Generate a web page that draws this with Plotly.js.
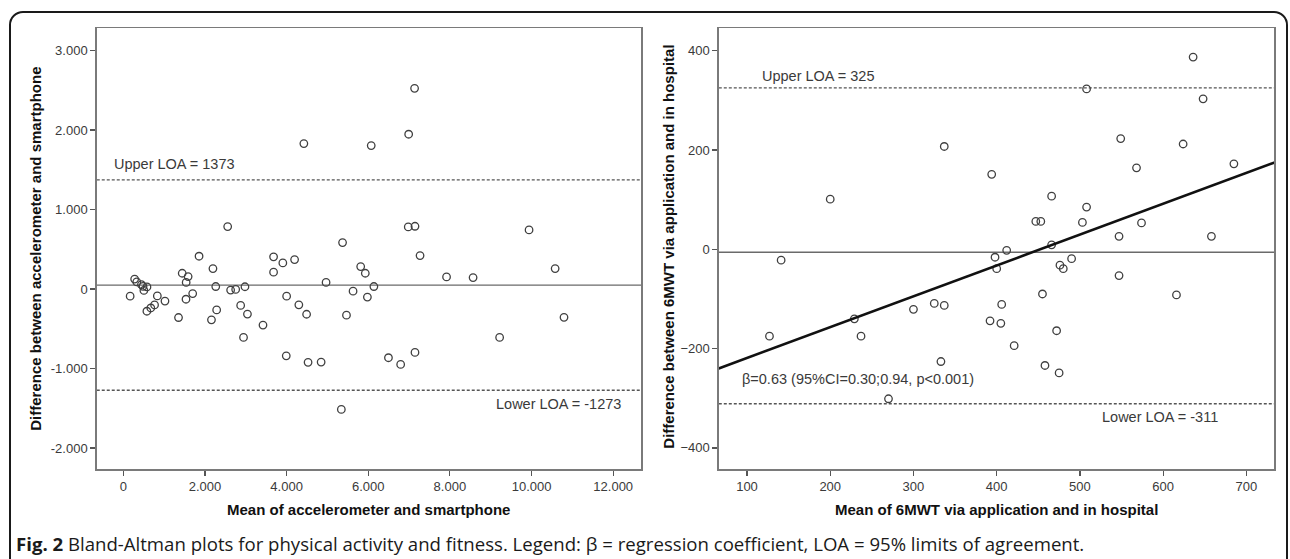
<!DOCTYPE html>
<html>
<head>
<meta charset="utf-8">
<script src="https://cdn.plot.ly/plotly-3.0.1.min.js"></script>
<style>
  html, body { margin:0; padding:0; background:#fff; overflow:hidden; width:1290px; height:559px; }
  #frame { position:absolute; left:9px; top:11px; width:1279px; height:620px; border:2px solid #1a1a1a; border-radius:14px; box-sizing:border-box; }
  #chart { position:absolute; left:0; top:0; width:1290px; height:559px; }
</style>
</head>
<body>
<div id="frame"></div>
<div id="chart"></div>
<script>
// ---- Left panel: physical activity (steps) ----
const leftMean = [7135,6990,4423,6073,2557,6980,7145,9939,5371,1856,3681,3908,4196,7269,2196,3681,5815,5928,10578,1443,1588,7918,8568,278,330,445,484,505,580,168,578,674,766,834,1021,1353,1540,1700,1536,2265,2287,2160,2629,2753,2980,2875,3041,2945,3422,4001,3992,4300,4490,4526,4846,4967,5341,5467,5628,5979,6138,6495,6794,7145,9218,10795];
const leftDiff = [2526,1948,1830,1805,786,782,790,744,585,413,405,329,371,421,258,212,283,199,258,199,157,153,145,126,90,55,35,-17,27,-90,-279,-238,-200,-86,-151,-358,84,-57,-128,32,-262,-387,-13,-4,29,-206,-315,-608,-453,-90,-840,-198,-317,-922,-918,84,-1514,-328,-27,-101,32,-864,-948,-797,-608,-356];
const leftMeanDiff = 50;
const leftUpper = 1373;
const leftLower = -1273;
const leftXTicks = [0,2000,4000,6000,8000,10000,12000];
const leftXTickText = ["0","2.000","4.000","6.000","8.000","10.000","12.000"];
const leftYTicks = [-2000,-1000,0,1000,2000,3000];
const leftYTickText = ["-2.000","-1.000","0","1.000","2.000","3.000"];

// ---- Right panel: 6MWT ----
const rightMean = [636,508,648,549,337,624,685,568,394,200,466,508,447,453,503,574,547,658,466,412,141,398,490,476,480,400,547,455,616,325,337,406,300,229,392,405,472,127,237,421,333,458,475,270];
const rightDiff = [387,323,303,223,207,212,172,164,151,101,107,85,56,56,54,53,26,26,9,-2,-22,-16,-19,-32,-39,-39,-53,-90,-92,-109,-113,-111,-121,-140,-144,-149,-164,-175,-175,-194,-226,-234,-249,-301];
const rightMeanDiff = -6;
const rightUpper = 325;
const rightLower = -311;
const regX = [66, 734];
const regY = [-240, 175];
const rightXTicks = [100,200,300,400,500,600,700];
const rightYTicks = [-400,-200,0,200,400];

const tickFont = {family:"Liberation Sans, Arial, sans-serif", size:13, color:"#3a3a3a"};
const noteFont = {family:"Liberation Sans, Arial, sans-serif", size:14.5, color:"#3a3a3a"};
const titleFont = {family:"Liberation Sans, Arial, sans-serif", size:15, color:"#111"};

const markerStyle = {symbol:"circle-open", size:7.5, color:"#404040", line:{width:1.3, color:"#404040"}};

const traces = [
  {x:leftMean, y:leftDiff, type:"scatter", mode:"markers", marker:markerStyle, xaxis:"x", yaxis:"y", hoverinfo:"x+y"},
  {x:rightMean, y:rightDiff, type:"scatter", mode:"markers", marker:markerStyle, xaxis:"x2", yaxis:"y2", hoverinfo:"x+y"},
  {x:regX, y:regY, type:"scatter", mode:"lines", line:{color:"#111", width:2.6}, xaxis:"x2", yaxis:"y2", hoverinfo:"skip"}
];

function axisBase(extra){
  return Object.assign({
    showgrid:false, zeroline:false, showline:true, mirror:true,
    linecolor:"#7a7a7a", linewidth:1.5,
    ticks:"outside", ticklen:5, tickwidth:1.2, tickcolor:"#555",
    tickfont:tickFont, automargin:false, fixedrange:true
  }, extra);
}

function hline(xref, yref, y, dash, color, width){
  return {type:"line", xref:xref+" domain", yref:yref, x0:0, x1:1, y0:y, y1:y,
          line:{color:color, width:width, dash:dash}, layer:"below"};
}

const layout = {
  width:1290, height:559, autosize:false,
  margin:{l:0, r:0, t:0, b:0},
  paper_bgcolor:"rgba(0,0,0,0)", plot_bgcolor:"#fff",
  showlegend:false,
  xaxis: axisBase({domain:[0.0750,0.4969], range:[-650,12681], tickvals:leftXTicks, ticktext:leftXTickText, anchor:"y"}),
  yaxis: axisBase({domain:[0.1610,0.9494], range:[-2264,3281], tickvals:leftYTicks, ticktext:leftYTickText, anchor:"x"}),
  xaxis2: axisBase({domain:[0.5572,0.9878], range:[66.1,733.5], tickvals:rightXTicks, anchor:"y2"}),
  yaxis2: axisBase({domain:[0.1605,0.9494], range:[-443,445], tickvals:rightYTicks, anchor:"x2"}),
  shapes:[
    hline("x","y",leftMeanDiff,"solid","#6a6a6a",1.3),
    hline("x","y",leftUpper,"3px,2px","#555",1.3),
    hline("x","y",leftLower,"3px,2px","#555",1.3),
    hline("x2","y2",rightMeanDiff,"solid","#6a6a6a",1.3),
    hline("x2","y2",rightUpper,"3px,2px","#555",1.3),
    hline("x2","y2",rightLower,"3px,2px","#555",1.3)
  ],
  annotations:[
    {xref:"x", yref:"y", x:-277, y:1576, xanchor:"left", yanchor:"middle", showarrow:false, text:"Upper LOA = " + leftUpper, font:noteFont},
    {xref:"x", yref:"y", x:12238, y:-1450, xanchor:"right", yanchor:"middle", showarrow:false, text:"Lower LOA = " + leftLower, font:noteFont},
    {xref:"x2", yref:"y2", x:115.6, y:349, xanchor:"left", yanchor:"middle", showarrow:false, text:"Upper LOA = " + rightUpper, font:noteFont},
    {xref:"x2", yref:"y2", x:668.7, y:-337, xanchor:"right", yanchor:"middle", showarrow:false, text:"Lower LOA = " + rightLower, font:noteFont},
    {xref:"x2", yref:"y2", x:91, y:-261, xanchor:"left", yanchor:"middle", showarrow:false, text:"β=0.63 (95%CI=0.30;0.94, p&lt;0.001)", font:noteFont},
    {xref:"paper", yref:"paper", x:0.2860, y:0.0889, xanchor:"center", yanchor:"middle", showarrow:false, text:"<b>Mean of accelerometer and smartphone</b>", font:titleFont},
    {xref:"paper", yref:"paper", x:0.7727, y:0.0889, xanchor:"center", yanchor:"middle", showarrow:false, text:"<b>Mean of 6MWT via application and in hospital</b>", font:titleFont},
    {xref:"paper", yref:"paper", x:0.02775, y:0.5546, xanchor:"center", yanchor:"middle", textangle:-90, showarrow:false, text:"<b>Difference between accelerometer and smartphone</b>", font:titleFont},
    {xref:"paper", yref:"paper", x:0.5186, y:0.5587, xanchor:"center", yanchor:"middle", textangle:-90, showarrow:false, text:"<b>Difference between 6MWT via application and in hospital</b>", font:titleFont},
    {xref:"paper", yref:"paper", x:0.01085, y:0.0285, xanchor:"left", yanchor:"middle", showarrow:false,
     text:"<b>Fig. 2</b> Bland-Altman plots for physical activity and fitness. Legend: β = regression coefficient, LOA = 95% limits of agreement.",
     font:{family:"Open Sans, Noto Sans, sans-serif", size:18.6, color:"#1a1a1a"}}
  ]
};

Plotly.newPlot("chart", traces, layout, {displayModeBar:false, staticPlot:true});
</script>
</body>
</html>
